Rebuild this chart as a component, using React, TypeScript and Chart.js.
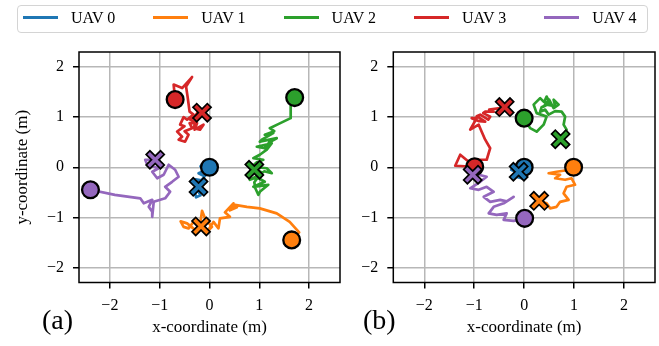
import React, { useEffect, useRef } from 'react';
import { Chart, registerables } from 'chart.js';

Chart.register(...registerables);

type P = [number, number];

const uavNames = ['UAV 0', 'UAV 1', 'UAV 2', 'UAV 3', 'UAV 4'];
const uavColors = ['#1f77b4', '#ff7f0e', '#2ca02c', '#d62728', '#9467bd'];
const tickValues = [-2, -1, 0, 1, 2];
const tickLabels = ['\u22122', '\u22121', '0', '1', '2'];
const xRange = [-2.62, 2.62];
const yRange = [-2.3, 2.3];
const xTitle = 'x-coordinate (m)';
const yTitle = 'y-coordinate (m)';
const panelLabels = ['(a)', '(b)'];

// Panel (a): trajectories, first point = start (circle), last point = end (X)
const a_uav0: P[] = [[0, 0], [-0.08, -0.03], [-0.18, 0.02], [-0.12, -0.08], [-0.22, -0.12], [-0.1, -0.18], [-0.05, -0.12], [-0.16, -0.26], [-0.28, -0.24], [-0.14, -0.36], [-0.24, -0.46], [-0.18, -0.56], [-0.27, -0.6], [-0.3, -0.46], [-0.2, -0.42], [-0.22, -0.39]];
const a_uav1: P[] = [[1.65, -1.45], [1.8, -1.3], [1.61, -1.09], [1.35, -0.92], [1.01, -0.82], [0.75, -0.79], [0.51, -0.75], [0.45, -0.82], [0.55, -0.8], [0.41, -0.86], [0.48, -0.72], [0.31, -0.9], [0.41, -0.99], [0.21, -1.02], [0.18, -1.22], [0.08, -1.09], [-0.05, -1.29], [0.05, -1.19], [-0.09, -1.02], [-0.15, -0.87], [-0.19, -1.15], [-0.32, -1.09], [-0.42, -1.22], [-0.52, -1.19], [-0.58, -1.08], [-0.45, -1.12], [-0.29, -1.25], [-0.1, -1.1], [-0.17, -1.18]];
const a_uav2: P[] = [[1.71, 1.39], [1.63, 1.3], [1.63, 0.98], [1.38, 0.86], [1.21, 0.78], [1.3, 0.72], [1.11, 0.65], [1.28, 0.68], [1.05, 0.55], [1.01, 0.51], [1.35, 0.58], [1.2, 0.5], [1.11, 0.38], [0.95, 0.41], [1.25, 0.48], [1.15, 0.35], [1.01, 0.25], [0.88, 0.18], [1.08, 0.15], [0.95, 0.1], [0.85, 0.01], [1.15, -0.02], [1.25, -0.12], [1.1, -0.08], [1.01, -0.15], [0.81, -0.25], [0.95, -0.2], [1.11, -0.29], [0.88, -0.39], [1.18, -0.35], [1.01, -0.49], [0.98, -0.55], [0.92, -0.42], [0.9, -0.3], [1.05, -0.1], [0.9, -0.05]];
const a_uav3: P[] = [[-0.69, 1.35], [-0.72, 1.65], [-0.55, 1.58], [-0.35, 1.8], [-0.47, 1.61], [-0.44, 1.41], [-0.4, 1.11], [-0.32, 1.05], [-0.45, 0.95], [-0.52, 1.0], [-0.59, 0.85], [-0.5, 0.82], [-0.65, 0.71], [-0.55, 0.61], [-0.62, 0.55], [-0.49, 0.51], [-0.42, 0.65], [-0.5, 0.72], [-0.35, 0.78], [-0.4, 0.88], [-0.25, 0.88], [-0.3, 0.75], [-0.12, 0.85], [-0.19, 0.75], [-0.32, 0.78], [-0.28, 0.9], [-0.39, 0.95], [-0.3, 1.0], [-0.25, 1.08], [-0.15, 1.09]];
const a_uav4: P[] = [[-2.39, -0.45], [-1.9, -0.55], [-1.39, -0.62], [-1.32, -0.72], [-1.15, -0.65], [-1.22, -0.79], [-1.15, -0.89], [-1.15, -0.99], [-1.12, -0.69], [-0.89, -0.62], [-0.79, -0.49], [-0.89, -0.39], [-0.75, -0.29], [-0.62, -0.19], [-0.69, -0.05], [-0.82, 0.05], [-0.92, -0.15], [-1.05, -0.22], [-1.15, -0.09], [-1.02, -0.02], [-1.25, 0.05], [-1.29, 0.15], [-1.09, 0.15]];

// Panel (b)
const b_uav0: P[] = [[0, 0], [-0.1, 0.05], [-0.2, 0.02], [-0.26, -0.05], [-0.15, -0.1], [-0.21, -0.18], [-0.08, -0.15], [-0.05, -0.22], [-0.13, -0.2], [-0.11, -0.09]];
const b_uav1: P[] = [[0.99, 0], [0.92, -0.05], [0.65, -0.09], [0.49, -0.12], [0.72, -0.15], [0.62, -0.22], [0.82, -0.25], [0.95, -0.22], [1.02, -0.35], [0.85, -0.39], [0.79, -0.52], [0.89, -0.65], [0.72, -0.69], [0.65, -0.79], [0.52, -0.82], [0.45, -0.72], [0.3, -0.67]];
const b_uav2: P[] = [[0, 0.98], [0.12, 0.78], [0.25, 0.71], [0.39, 0.85], [0.45, 1.01], [0.25, 1.08], [0.19, 1.25], [0.32, 1.38], [0.4, 1.3], [0.45, 1.41], [0.52, 1.28], [0.39, 1.21], [0.5, 1.35], [0.59, 1.18], [0.69, 1.25], [0.59, 1.35], [0.62, 1.22], [0.45, 1.25], [0.35, 1.2], [0.32, 1.11], [0.42, 1.15], [0.49, 1.05], [0.62, 1.12], [0.75, 1.11], [0.82, 1.01], [0.79, 0.85], [0.85, 0.75], [0.73, 0.56]];
const b_uav3: P[] = [[-0.99, 0.01], [-1.38, 0.03], [-1.28, 0.25], [-1.11, 0.11], [-0.95, 0.15], [-0.75, 0.15], [-0.68, 0.38], [-0.78, 0.55], [-0.85, 0.71], [-0.91, 0.85], [-1.08, 0.75], [-0.95, 0.98], [-1.05, 0.98], [-0.9, 0.92], [-0.78, 0.91], [-0.95, 1.02], [-0.88, 1.05], [-0.72, 0.95], [-0.68, 1.01], [-0.82, 1.08], [-0.78, 1.11], [-0.61, 1.11], [-0.7, 1.15], [-0.48, 1.18], [-0.39, 1.2]];
const b_uav4: P[] = [[0.01, -1.02], [-0.21, -1.07], [-0.41, -1.05], [-0.35, -0.92], [-0.55, -0.95], [-0.71, -0.92], [-0.61, -0.79], [-0.41, -0.72], [-0.21, -0.59], [-0.35, -0.68], [-0.48, -0.65], [-0.68, -0.69], [-0.81, -0.59], [-0.61, -0.49], [-0.75, -0.39], [-0.91, -0.45], [-1.08, -0.42], [-0.88, -0.29], [-0.75, -0.19], [-0.91, -0.15], [-1.03, -0.15]];

const panelA = [a_uav0, a_uav1, a_uav2, a_uav3, a_uav4];
const panelB = [b_uav0, b_uav1, b_uav2, b_uav3, b_uav4];

const FONT = "'Liberation Serif', 'Times New Roman', serif";

function buildDatasets(paths: P[][]) {
  const ds: any[] = [];
  paths.forEach((path, i) => {
    ds.push({
      label: uavNames[i],
      data: path.map(([x, y]) => ({ x, y })),
      showLine: true,
      borderColor: uavColors[i],
      backgroundColor: uavColors[i],
      borderWidth: 2.7,
      borderJoinStyle: 'round',
      borderCapStyle: 'round',
      pointRadius: 0,
      tension: 0,
      order: 30 - i,
    });
  });
  paths.forEach((path, i) => {
    const s = path[0];
    ds.push({
      label: uavNames[i] + ' start',
      data: [{ x: s[0], y: s[1] }],
      pointStyle: 'circle',
      pointRadius: 8.4,
      backgroundColor: uavColors[i],
      borderColor: '#000',
      borderWidth: 2.3,
      order: 10,
    });
  });
  paths.forEach((path, i) => {
    const e = path[path.length - 1];
    ds.push({
      label: uavNames[i] + ' end outline',
      data: [{ x: e[0], y: e[1] }],
      pointStyle: 'crossRot',
      pointRadius: 11,
      borderColor: '#000',
      borderWidth: 7,
      order: 5,
    });
    ds.push({
      label: uavNames[i] + ' end',
      data: [{ x: e[0], y: e[1] }],
      pointStyle: 'crossRot',
      pointRadius: 9.3,
      borderColor: uavColors[i],
      borderWidth: 3.6,
      order: 4,
    });
  });
  return ds;
}

const framePlugin = {
  id: 'frame',
  afterDraw(chart: any) {
    const { ctx, chartArea } = chart;
    const { left, top, right, bottom } = chartArea;
    ctx.save();
    ctx.strokeStyle = '#000';
    ctx.lineWidth = 1.5;
    ctx.strokeRect(left, top, right - left, bottom - top);
    ctx.restore();
  },
};

function tickLabelFor(v: any) {
  const idx = tickValues.indexOf(Number(v));
  return idx >= 0 ? tickLabels[idx] : '';
}

function makeScale(axis: 'x' | 'y', showTitle: boolean, fixedSize: number) {
  const isX = axis === 'x';
  return {
    type: 'linear',
    position: isX ? 'bottom' : 'left',
    min: isX ? xRange[0] : yRange[0],
    max: isX ? xRange[1] : yRange[1],
    afterBuildTicks: (s: any) => {
      s.ticks = tickValues.map((v) => ({ value: v }));
    },
    afterFit: (s: any) => {
      if (isX) s.height = fixedSize;
      else s.width = fixedSize;
      s.paddingLeft = 0;
      s.paddingRight = 0;
      s.paddingTop = 0;
      s.paddingBottom = 0;
    },
    ticks: {
      callback: (v: any) => tickLabelFor(v),
      font: { family: FONT, size: 16 },
      color: '#000',
      padding: isX ? 8 : 9,
      maxRotation: 0,
      autoSkip: false,
    },
    grid: {
      color: '#b7b7b7',
      lineWidth: 1.5,
      drawTicks: true,
      tickLength: 6,
      tickColor: '#000',
      tickWidth: 1.5,
    },
    border: { display: false },
    title: {
      display: showTitle,
      text: isX ? xTitle : yTitle,
      font: { family: FONT, size: 17 },
      color: '#000',
      padding: isX ? { top: 0, bottom: 8 } : { top: 12, bottom: 0 },
    },
  };
}

function Panel(props: {
  paths: P[][];
  left: number;
  width: number;
  yAxisWidth: number;
  padRight: number;
  showYTitle: boolean;
}) {
  const ref = useRef<HTMLCanvasElement>(null);
  useEffect(() => {
    const chart = new Chart(ref.current as HTMLCanvasElement, {
      type: 'scatter',
      data: { datasets: buildDatasets(props.paths) },
      options: {
        responsive: false,
        maintainAspectRatio: false,
        animation: false,
        devicePixelRatio: 1,
        events: [],
        layout: {
          autoPadding: false,
          padding: { top: 52, right: props.padRight, bottom: 0, left: 0 },
        },
        plugins: { legend: { display: false }, tooltip: { enabled: false } },
        scales: {
          x: makeScale('x', true, 63.5) as any,
          y: makeScale('y', props.showYTitle, props.yAxisWidth) as any,
        },
      } as any,
      plugins: [framePlugin],
    });
    return () => chart.destroy();
  }, []);
  return (
    <canvas
      ref={ref}
      width={props.width}
      height={346}
      style={{ position: 'absolute', left: props.left, top: 0, width: props.width, height: 346 }}
    />
  );
}

export default function App() {
  return (
    <div
      style={{
        position: 'fixed',
        left: 0,
        top: 0,
        width: 659,
        height: 346,
        background: '#fff',
        overflow: 'hidden',
        fontFamily: FONT,
      }}
    >
      <Panel paths={panelA} left={0} width={345} yAxisWidth={79} padRight={5} showYTitle={true} />
      <Panel paths={panelB} left={350} width={309} yAxisWidth={43.3} padRight={4} showYTitle={false} />
      <div
        style={{
          position: 'absolute',
          left: 17,
          top: 5,
          width: 631,
          height: 28,
          border: '1px solid #d4d4d4',
          borderRadius: 4,
          boxSizing: 'border-box',
          background: 'rgba(255,255,255,0.8)',
        }}
      />
      {uavNames.map((name, i) => (
        <React.Fragment key={name}>
          <div
            style={{
              position: 'absolute',
              left: 23 + i * 130.3,
              top: 16,
              width: 35,
              height: 2.5,
              background: uavColors[i],
            }}
          />
          <span
            style={{
              position: 'absolute',
              left: 71 + i * 130.3,
              top: 8,
              fontSize: 16,
              lineHeight: '20px',
              color: '#000',
              whiteSpace: 'nowrap',
            }}
          >
            {name}
          </span>
        </React.Fragment>
      ))}
      {panelLabels.map((t, i) => (
        <span
          key={t}
          style={{
            position: 'absolute',
            left: i === 0 ? 42 : 363,
            top: 306,
            fontSize: 28,
            lineHeight: '28px',
            color: '#000',
            whiteSpace: 'nowrap',
          }}
        >
          {t}
        </span>
      ))}
    </div>
  );
}
